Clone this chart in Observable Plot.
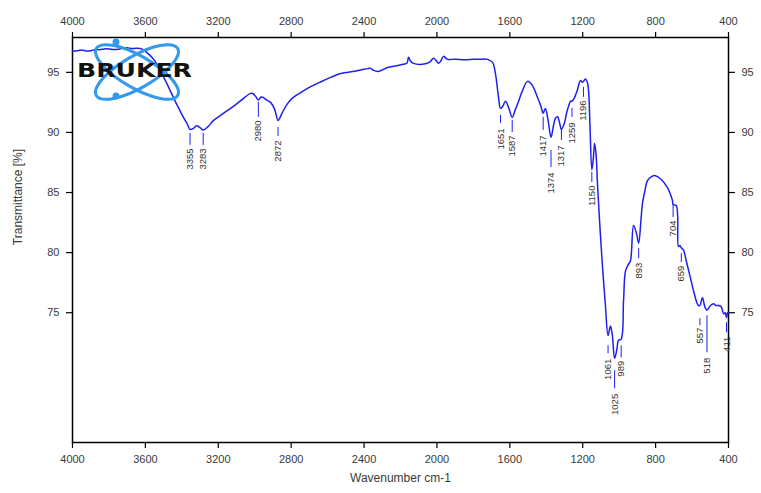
<!DOCTYPE html>
<html>
<head>
<meta charset="utf-8">
<script src="https://cdn.jsdelivr.net/npm/d3@7"></script>
<script src="https://cdn.jsdelivr.net/npm/@observablehq/plot@0.6"></script>
<style>
  html, body { margin: 0; padding: 0; background: #fff; }
</style>
</head>
<body>
<div id="chart"></div>
<script>
// Spectrum (wavenumber in cm-1, transmittance in %)
const wavenumber = [
  4000, 3975, 3950, 3925, 3900, 3875, 3850, 3825, 3800, 3775, 3750, 3725, 3700, 3675, 3650, 3620,
  3588, 3550, 3517, 3480, 3446, 3420, 3391, 3370, 3355, 3335, 3320, 3300, 3283, 3255, 3226, 3180, 3133,
  3080, 3023, 3007, 2995, 2980, 2965, 2952, 2935, 2913, 2890, 2872, 2850, 2820, 2790, 2749, 2700,
  2639, 2580, 2529, 2450, 2400, 2365, 2348, 2321, 2271, 2220, 2184, 2165, 2156, 2145, 2129, 2079,
  2040, 2019, 2005, 1991, 1975, 1964, 1942, 1900, 1850, 1800, 1750, 1722, 1695, 1679, 1662, 1651,
  1638, 1624, 1605, 1587, 1570, 1552, 1530, 1503, 1476, 1448, 1430, 1417, 1405, 1390, 1374, 1360,
  1349, 1338, 1327, 1317, 1300, 1289, 1275, 1267, 1259, 1245, 1230, 1212, 1201, 1185, 1175, 1168,
  1160, 1150, 1142, 1135, 1127, 1119, 1105, 1091, 1075, 1061, 1048, 1038, 1025, 1012, 1004, 989,
  976, 965, 950, 938, 921, 905, 893, 880, 872, 858, 845, 820, 801, 770, 735, 720, 707, 704, 686,
  675, 667, 659, 647, 630, 609, 590, 575, 565, 557, 543, 530, 518, 499, 482, 470, 455, 440, 427,
  418, 411, 405, 400
];
const transmittance = [
  96.75, 96.8, 96.85, 96.78, 96.8, 96.9, 96.88, 96.95, 96.95, 96.9, 96.92, 97.02, 97.05, 96.98, 97.0, 96.95,
  96.6, 96.0, 95.1, 94.0, 92.9, 92.1, 91.25, 90.7, 90.25, 90.35, 90.55, 90.4, 90.2, 90.5, 91.0, 91.5, 92.0,
  92.6, 93.25, 93.2, 93.0, 92.7, 92.95, 92.9, 92.7, 92.5, 91.9, 91.0, 91.6, 92.4, 92.9, 93.3, 93.75,
  94.2, 94.6, 94.9, 95.1, 95.25, 95.33, 95.17, 95.08, 95.4, 95.55, 95.67, 95.75, 96.25, 95.95, 95.75, 95.67,
  95.85, 96.17, 96.0, 95.75, 96.05, 96.33, 96.08, 96.1, 96.05, 96.08, 96.1, 96.08, 95.83, 94.9, 92.9, 92.0,
  92.2, 92.6, 92.0, 91.25, 91.9, 92.6, 93.5, 94.25, 93.9, 92.9, 92.2, 91.6, 92.0, 91.0, 89.6, 90.6,
  91.2, 91.3, 90.8, 90.25, 90.8, 91.6, 92.3, 92.6, 92.6, 92.9, 93.5, 94.33, 94.17, 94.45, 94.2, 93.5,
  90.5, 86.9, 87.8, 89.1, 88.2, 85.75, 82.0, 78.75, 75.5, 73.1, 73.9, 73.2, 71.2, 72.0, 72.7, 72.8,
  76.0, 78.5, 79.0, 79.33, 82.25, 81.6, 80.8, 82.8, 84.1, 85.2, 86.0, 86.35, 86.4, 86.1, 85.4, 84.9, 84.3, 84.0, 83.9,
  80.5, 80.6, 80.4, 80.2, 79.2, 77.9, 76.7, 75.9, 75.6, 75.6, 76.25, 75.5, 75.2, 75.6, 75.75, 75.6, 75.6, 75.5, 74.9,
  75.0, 74.6, 75.0, 75.0
];

// Peak annotations: wavenumber, marker from/to and label end (in % transmittance)
const peakLabels  = [3355, 3283, 2980, 2872, 1651, 1587, 1417, 1374, 1317, 1259, 1196, 1150, 1061, 1025, 989, 893, 704, 659, 557, 518, 411];
const peakMarkTop = [89.92, 89.92, 92.5, 90.42, 91.42, 91.0, 91.25, 88.5, 90.33, 92.0, 93.75, 86.67, 72.25, 70.17, 72.25, 80.33, 83.92, 79.92, 74.5, 74.75, 74.17];
const peakMarkEnd = [88.92, 88.92, 91.25, 89.67, 90.75, 90.0, 90.17, 87.08, 89.33, 91.25, 92.92, 85.83, 71.58, 68.67, 71.25, 79.5, 82.92, 79.17, 73.92, 71.67, 73.33];
const peakTextEnd = [88.67, 88.67, 91.0, 89.33, 90.33, 89.75, 89.75, 86.67, 88.92, 90.83, 92.67, 85.58, 71.17, 68.25, 71.0, 79.17, 82.67, 78.92, 73.75, 71.25, 73.0];

const xTicks = [4000, 3600, 3200, 2800, 2400, 2000, 1600, 1200, 800, 400];
const yTicks = [75, 80, 85, 90, 95];

const spectrum = wavenumber.map((w, i) => ({w, t: transmittance[i]}));
const peaks = peakLabels.map((w, i) => ({w, top: peakMarkTop[i], end: peakMarkEnd[i], text: peakTextEnd[i]}));

const blue = "#1f1ff0";
const font = "'Liberation Sans', Arial, sans-serif";
const fmt = d => String(d);
const axisStyle = {tickSize: 6, tickPadding: 7, fontSize: 11, stroke: "black", fill: "#3a3a3a", strokeWidth: 1.2, label: null, tickFormat: fmt};

const chart = Plot.plot({
  width: 761,
  height: 493,
  marginLeft: 72,
  marginRight: 33,
  marginTop: 37,
  marginBottom: 51,
  style: {fontFamily: font, background: "#fff"},
  x: {domain: [4000, 400]},
  y: {domain: [64.2, 97.9]},
  marks: [
    Plot.axisX({anchor: "bottom", ticks: xTicks, ...axisStyle}),
    Plot.axisX({anchor: "top", ticks: xTicks, ...axisStyle}),
    Plot.axisY({anchor: "left", ticks: yTicks, ...axisStyle}),
    Plot.axisY({anchor: "right", ticks: yTicks, ...axisStyle}),
    Plot.frame({stroke: "black", strokeWidth: 1.5}),
    Plot.line(spectrum, {x: "w", y: "t", stroke: blue, strokeWidth: 1.5, curve: "catmull-rom"}),
    Plot.ruleX(peaks, {x: "w", y1: "top", y2: "end", stroke: blue, strokeWidth: 1}),
    Plot.text(peaks, {x: "w", y: "text", text: d => String(d.w), rotate: -90, textAnchor: "end", fontSize: 9.5, fill: "#333"}),
    Plot.text(["Wavenumber cm-1"], {frameAnchor: "bottom", dy: 39, fontSize: 12, fill: "#3a3a3a"}),
    Plot.text(["Transmittance [%]"], {frameAnchor: "left", textAnchor: "middle", dx: -54, dy: -43, rotate: -90, fontSize: 12, fill: "#3a3a3a"})
  ]
});

// Bruker logo (decoration)
const logo = d3.select(chart).append("g").attr("transform", "translate(137,72)");
const lb = "#3399ee";
[[-30, 47, 16], [30, 47, 16]].forEach(([r, rx, ry]) => {
  logo.append("ellipse").attr("rx", rx).attr("ry", ry).attr("transform", `rotate(${r})`)
    .attr("fill", "none").attr("stroke", lb).attr("stroke-width", 3);
});
logo.append("circle").attr("cx", -21).attr("cy", -30).attr("r", 3.5).attr("fill", lb);
logo.append("circle").attr("cx", -21).attr("cy", 24).attr("r", 3.5).attr("fill", lb);
d3.select(chart).append("text").attr("x", 77).attr("y", 77).attr("text-anchor", "start")
  .attr("font-family", "'DejaVu Sans', sans-serif").attr("font-weight", "bold").attr("font-size", 19.5)
  .attr("textLength", 115).attr("lengthAdjust", "spacingAndGlyphs")
  .attr("fill", "#111").text("BRUKER");

document.getElementById("chart").appendChild(chart);
</script>
</body>
</html>
